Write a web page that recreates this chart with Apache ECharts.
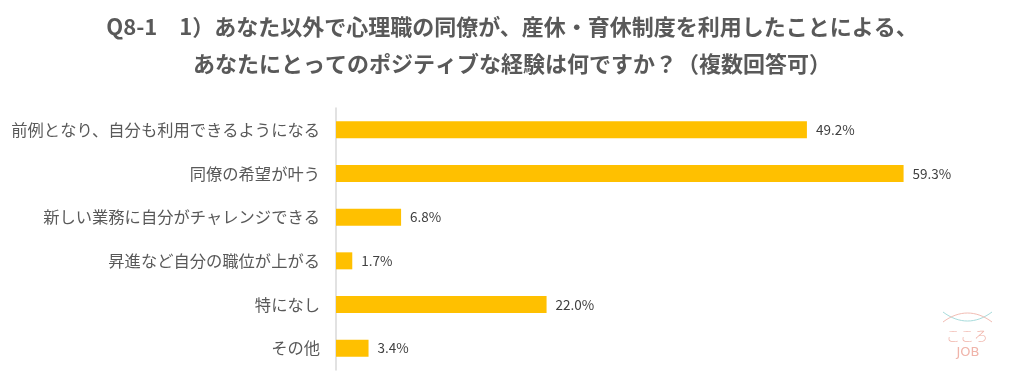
<!DOCTYPE html>
<html>
<head>
<meta charset="utf-8">
<script src="https://cdn.jsdelivr.net/npm/echarts@6/dist/echarts.min.js"></script>
<style>
html,body{margin:0;padding:0;background:#fff;}
#main{width:1024px;height:390px;}
</style>
</head>
<body>
<div id="main"></div>
<script>
const titleLines = [
  'Q8-1　1）あなた以外で心理職の同僚が、産休・育休制度を利用したことによる、',
  'あなたにとってのポジティブな経験は何ですか？（複数回答可）'
];
const categories = [
  '前例となり、自分も利用できるようになる',
  '同僚の希望が叶う',
  '新しい業務に自分がチャレンジできる',
  '昇進など自分の職位が上がる',
  '特になし',
  'その他'
];
const values = [49.2, 59.3, 6.8, 1.7, 22.0, 3.4];
const logoText = ['こころ', 'JOB'];

const chart = echarts.init(document.getElementById('main'), null, {renderer: 'canvas'});
const jp = '"Noto Sans CJK JP", "Noto Sans", sans-serif';
const titleStyle = {fontFamily: jp, fontSize: 22, fontWeight: 'bold', color: '#595959'};
chart.setOption({
  backgroundColor: '#ffffff',
  animation: false,
  title: [
    {text: titleLines[0], left: 'center', top: 16, padding: 0, textStyle: titleStyle},
    {text: titleLines[1], left: 'center', top: 53, padding: 0, textStyle: titleStyle}
  ],
  grid: {left: 336, right: 18, top: 108, bottom: 20, containLabel: false},
  xAxis: {
    type: 'value', min: 0, max: 70, show: false
  },
  yAxis: {
    type: 'category',
    data: categories,
    inverse: true,
    axisLine: {show: true, lineStyle: {color: '#D9D9D9', width: 1.5}},
    axisTick: {show: false},
    axisLabel: {
      margin: 16,
      fontFamily: jp,
      fontSize: 16.3,
      color: '#595959'
    }
  },
  series: [{
    type: 'bar',
    data: values,
    barWidth: 17,
    itemStyle: {color: '#FFC000'},
    label: {
      show: true,
      position: 'right',
      distance: 9,
      fontFamily: jp,
      fontSize: 13.5,
      color: '#404040',
      formatter: p => p.value.toFixed(1) + '%'
    }
  }],
  graphic: [
    {type: 'bezierCurve', shape: {x1: 943, y1: 312, cpx1: 959, cpy1: 324, cpx2: 976, cpy2: 324, x2: 992, y2: 312},
     style: {stroke: '#A8DCDC', lineWidth: 1, fill: null}},
    {type: 'bezierCurve', shape: {x1: 943, y1: 322, cpx1: 959, cpy1: 310, cpx2: 976, cpy2: 310, x2: 992, y2: 322},
     style: {stroke: '#F2BDB4', lineWidth: 1, fill: null}},
    {type: 'text', x: 967, y: 336, style: {text: logoText[0], fontFamily: jp, fontSize: 14, fontWeight: 300, fill: '#F0B4AA', align: 'center', verticalAlign: 'middle'}},
    {type: 'text', x: 968, y: 353, style: {text: logoText[1], fontFamily: '"DejaVu Sans", sans-serif', fontSize: 13, fill: '#F0B4AA', align: 'center', verticalAlign: 'middle', letterSpacing: 3}}
  ]
});
</script>
</body>
</html>
